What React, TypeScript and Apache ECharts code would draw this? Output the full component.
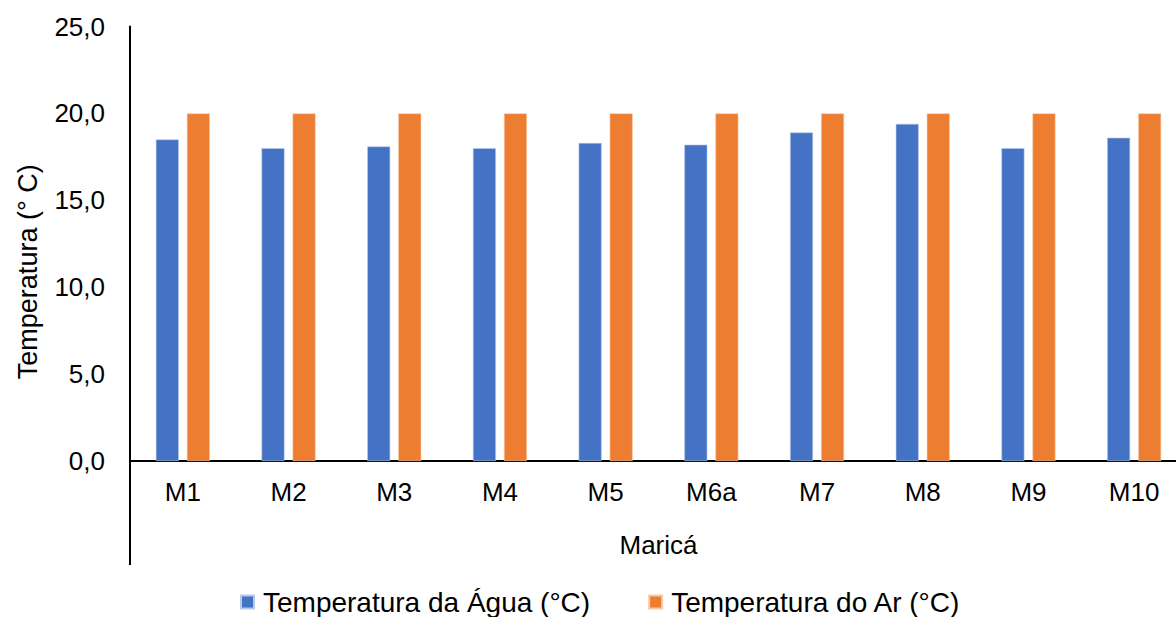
import React, { useEffect, useRef } from "react";
import * as echarts from "echarts";

const categories = ["M1", "M2", "M3", "M4", "M5", "M6a", "M7", "M8", "M9", "M10"];
const aguaValues = [18.5, 18.0, 18.1, 18.0, 18.3, 18.2, 18.9, 19.4, 18.0, 18.6];
const arValues = [20.0, 20.0, 20.0, 20.0, 20.0, 20.0, 20.0, 20.0, 20.0, 20.0];
const seriesNames = ["Temperatura da Água (°C)", "Temperatura do Ar (°C)"];
const yAxisName = "Temperatura (° C)";
const xAxisName = "Maricá";

const FONT = "Liberation Sans, Arial, sans-serif";

export default function App() {
  const ref = useRef<HTMLDivElement>(null);
  useEffect(() => {
    if (!ref.current) return;
    const chart = echarts.init(ref.current, null, { renderer: "svg" });
    chart.setOption({
      animation: false,
      backgroundColor: "#ffffff",
      textStyle: { fontFamily: FONT },
      grid: {
        left: 130,
        width: 1057,
        top: 26.5,
        bottom: 156,
        containLabel: false,
        outerBoundsMode: "none",
      },
      legend: {
        data: seriesNames,
        top: 587,
        left: 240,
        padding: 0,
        itemWidth: 13,
        itemHeight: 13,
        itemGap: 58,
        icon: "rect",
        textStyle: { fontSize: 28, lineHeight: 30, color: "#000", fontFamily: FONT, padding: [0, 0, 0, 4] },
      },
      xAxis: {
        type: "category",
        data: categories,
        name: xAxisName,
        nameLocation: "middle",
        nameGap: 71,
        nameTextStyle: { fontSize: 26, color: "#000", fontFamily: FONT },
        axisLine: { lineStyle: { color: "#000", width: 2 } },
        axisTick: { show: false },
        axisLabel: { fontSize: 26, color: "#000", margin: 18, fontFamily: FONT },
      },
      yAxis: {
        type: "value",
        min: 0,
        max: 25,
        interval: 5,
        name: yAxisName,
        nameLocation: "middle",
        nameGap: 89,
        nameRotate: 90,
        nameTextStyle: { fontSize: 27, color: "#000", fontFamily: FONT, padding: [0, 56, 0, 0] },
        axisLine: { show: true, lineStyle: { color: "#000", width: 2 } },
        axisTick: { show: false },
        splitLine: { show: false },
        axisLabel: {
          fontSize: 26,
          color: "#000",
          margin: 25,
          fontFamily: FONT,
          formatter: (v: number) => v.toFixed(1).replace(".", ","),
        },
      },
      graphic: [
        {
          type: "line",
          shape: { x1: 130, y1: 461, x2: 130, y2: 565 },
          style: { stroke: "#000", lineWidth: 2 },
        },
      ],
      series: [
        {
          name: seriesNames[0],
          type: "bar",
          data: aguaValues,
          barWidth: 23,
          barGap: "35%",
          itemStyle: { color: "#4472C4", borderColor: "#b8c9ea", borderWidth: 0.6 },
        },
        {
          name: seriesNames[1],
          type: "bar",
          data: arValues,
          barWidth: 23,
          itemStyle: { color: "#ED7D31", borderColor: "#f7c9a8", borderWidth: 0.6 },
        },
      ],
    });
    return () => chart.dispose();
  }, []);
  return (
    <div
      ref={ref}
      style={{ position: "fixed", left: 0, top: 0, width: 1176, height: 617, background: "#fff" }}
    />
  );
}
